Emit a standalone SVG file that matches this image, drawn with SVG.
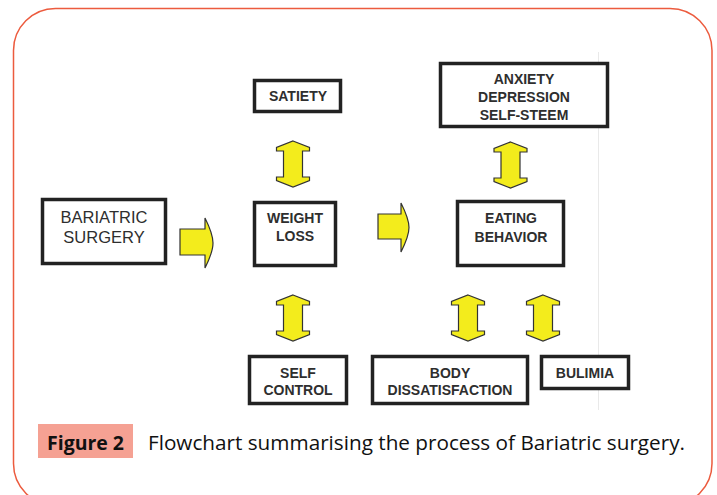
<svg xmlns="http://www.w3.org/2000/svg" width="717" height="495" viewBox="0 0 717 495">
<style>
.box{fill:#fff;stroke:#222;stroke-width:3.5}
.t{font-family:"Liberation Sans",Arial,sans-serif;font-weight:bold;font-size:14px;fill:#2e2e2e;text-anchor:middle}
.tr{font-family:"Liberation Sans",Arial,sans-serif;font-size:16.5px;fill:#2e2e2e;text-anchor:middle}
.arr{fill:#F3EC1C;stroke:#333;stroke-width:1.2;stroke-linejoin:miter}
.cap{font-family:"Open Sans","Noto Sans",sans-serif;font-size:20px;fill:#111}
</style>
<defs>
<path id="dbl" d="M0,-23 L16.5,-16.5 L16.5,-13 L9.5,-13 L9.5,13 L16.5,13 L16.5,16.5 L0,23 L-16.5,16.5 L-16.5,13 L-9.5,13 L-9.5,-13 L-16.5,-13 L-16.5,-16.5 Z"/>
</defs>
<rect width="717" height="495" fill="#fff"/>
<rect x="13.5" y="8.5" width="698.5" height="497" rx="42" ry="42" fill="none" stroke="#EC5B3E" stroke-width="1.5"/>
<line x1="598.5" y1="52" x2="598.5" y2="410" stroke="#e9e9e9" stroke-width="1"/>

<g id="connectors">
<path class="arr" d="M180,229 H205 V218 C208,224 213,236 213,243 C213,250 208,262 205,268 V255 H180 Z"/>
<path class="arr" d="M378,214 H401 V203 C404,209 409,220 409,227.5 C409,235 404,246 401,252 V239 H378 Z"/>
<use href="#dbl" class="arr" x="293" y="164"/>
<use href="#dbl" class="arr" x="293" y="318"/>
<use href="#dbl" class="arr" x="510.5" y="165"/>
<use href="#dbl" class="arr" x="468" y="318"/>
<use href="#dbl" class="arr" x="543" y="318"/>
</g>

<g id="bariatric">
<rect class="box" x="42.5" y="199.5" width="123" height="64"/>
<text class="tr" x="104" y="223">BARIATRIC</text>
<text class="tr" x="104" y="243">SURGERY</text>
</g>
<g id="satiety">
<rect class="box" x="254.5" y="80.5" width="86" height="31"/>
<text class="t" x="298" y="101">SATIETY</text>
</g>
<g id="weightloss">
<rect class="box" x="254.5" y="202.5" width="81" height="63"/>
<text class="t" x="295" y="223">WEIGHT</text>
<text class="t" x="295" y="241">LOSS</text>
</g>
<g id="selfcontrol">
<rect class="box" x="249.5" y="356.5" width="97" height="47"/>
<text class="t" x="298" y="378">SELF</text>
<text class="t" x="298" y="395">CONTROL</text>
</g>
<g id="anxiety">
<rect class="box" x="440.5" y="63.5" width="167" height="63"/>
<text class="t" x="524" y="84">ANXIETY</text>
<text class="t" x="524" y="102">DEPRESSION</text>
<text class="t" x="524" y="120">SELF-STEEM</text>
</g>
<g id="eating">
<rect class="box" x="457.5" y="201.5" width="106" height="64"/>
<text class="t" x="511" y="223">EATING</text>
<text class="t" x="511" y="242">BEHAVIOR</text>
</g>
<g id="body">
<rect class="box" x="372.5" y="356.5" width="155" height="47"/>
<text class="t" x="450" y="378">BODY</text>
<text class="t" x="450" y="395">DISSATISFACTION</text>
</g>
<g id="bulimia">
<rect class="box" x="541.5" y="356.5" width="87" height="32"/>
<text class="t" x="585" y="378">BULIMIA</text>
</g>

<g id="caption">
<rect x="38" y="424" width="95" height="34" fill="#F5A193"/>
<text class="cap" x="47" y="450" font-weight="bold" textLength="77" lengthAdjust="spacingAndGlyphs">Figure 2</text>
<text class="cap" x="148" y="450" textLength="537" lengthAdjust="spacingAndGlyphs">Flowchart summarising the process of Bariatric surgery.</text>
</g>
</svg>
